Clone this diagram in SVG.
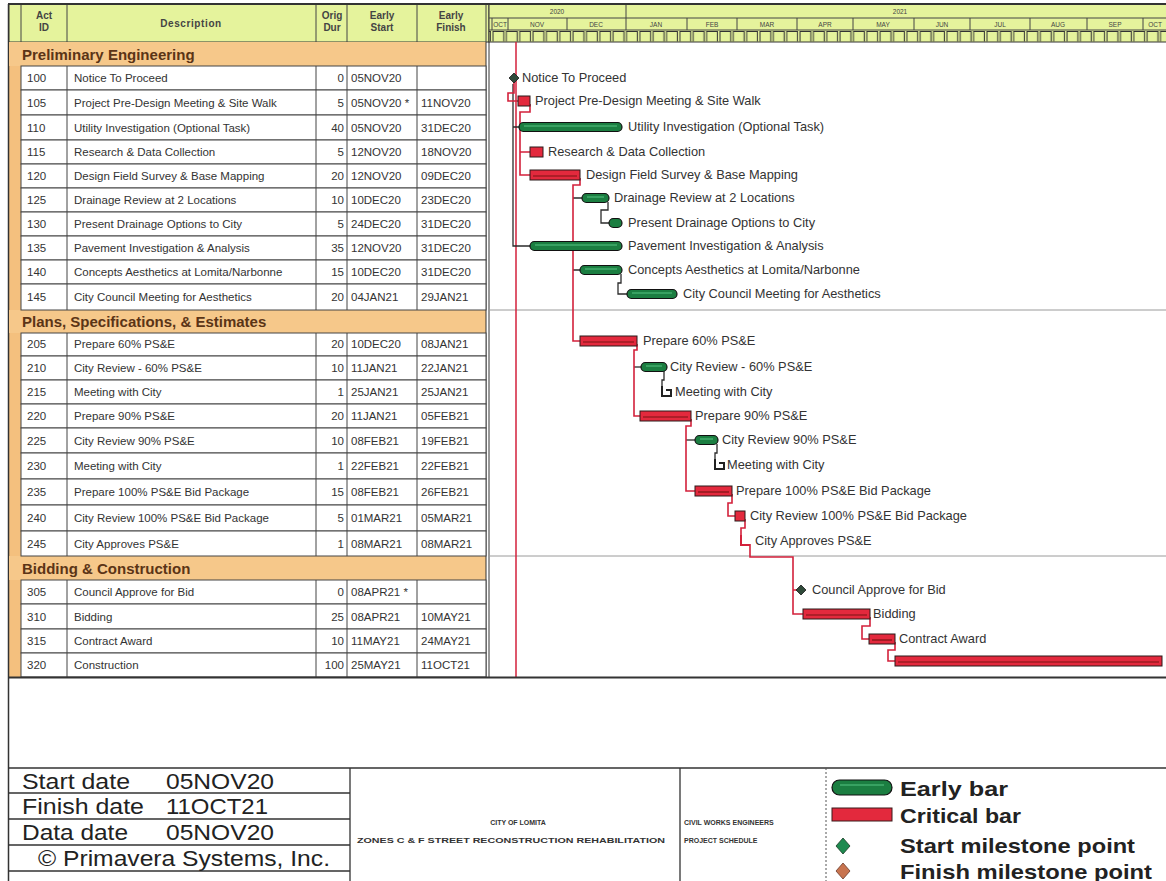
<svg xmlns="http://www.w3.org/2000/svg" width="1166" height="881" viewBox="0 0 1166 881">
<defs>
<pattern id="wk" x="492" y="30" width="13.35" height="12" patternUnits="userSpaceOnUse">
<path d="M1,11.5 V1.5 H11.8 V11.5" fill="none" stroke="#333" stroke-width="1"/>
</pattern>
<style>
.t{font-family:"Liberation Sans",Arial,sans-serif;fill:#333}
.tb{font-size:11.5px}
.hd{font-size:10px;font-weight:bold;fill:#444}
.sec{font-size:15px;font-weight:bold;fill:#5b3416}
.lbl{font-size:12.8px}
.tiny{font-size:6.5px;fill:#444}
.ft{font-size:22px;fill:#222}
.lg{font-size:21px;font-weight:bold;fill:#222}
.sm{font-size:7px;font-weight:bold;fill:#333}
.grid{stroke:#444;stroke-width:1;fill:none}
.cell{fill:#fff;stroke:#444;stroke-width:1}
.secbg{fill:#f6c88a}
.crit{fill:#e3293d;stroke:#2b1b1b;stroke-width:1}
.cin{stroke:#7a1414;stroke-width:1.2}
.early{fill:#1b7e41;stroke:#111;stroke-width:1.2}
.ein{stroke:#56c483;stroke-width:1}
.ms{fill:#2f4a3a;stroke:#1a1a1a;stroke-width:0.8}
.rc{fill:none;stroke:#d3213b;stroke-width:1.6}
.rn{fill:none;stroke:#2b2b2b;stroke-width:1.3}
.brk{fill:none;stroke:#222;stroke-width:2}
.brkc{fill:none;stroke:#d3213b;stroke-width:2}
</style>
</defs>
<rect x="0" y="0" width="1166" height="881" fill="#fff"/>

<!-- left orange strip and frame -->
<rect x="9" y="42" width="12" height="635" fill="#f4c07e"/>
<line x1="8.5" y1="4" x2="8.5" y2="881" stroke="#333" stroke-width="1.5"/>

<!-- column header -->
<g id="col-header">
<rect x="9" y="4" width="480" height="38" fill="#e5f39c" stroke="#333" stroke-width="1"/>
<path class="grid" d="M21,4 V42 M67,4 V42 M316,4 V42 M347,4 V42 M417,4 V42 M486,4 V42"/>
<text class="t hd" x="44" y="19" text-anchor="middle">Act</text>
<text class="t hd" x="44" y="31" text-anchor="middle">ID</text>
<text class="t hd" x="191" y="27" text-anchor="middle" letter-spacing="0.6">Description</text>
<text class="t hd" x="332" y="19" text-anchor="middle">Orig</text>
<text class="t hd" x="332" y="31" text-anchor="middle">Dur</text>
<text class="t hd" x="382" y="19" text-anchor="middle">Early</text>
<text class="t hd" x="382" y="31" text-anchor="middle">Start</text>
<text class="t hd" x="451" y="19" text-anchor="middle">Early</text>
<text class="t hd" x="451" y="31" text-anchor="middle">Finish</text>
</g>

<!-- timeline header -->
<g id="time-header">
<rect x="489" y="4" width="680" height="38" fill="#e5f39c" stroke="#333" stroke-width="1"/>
<path class="grid" d="M489,18 H1166 M489,30 H1166 M626,4 V18"/>
<path class="grid" d="M492,18 V30 M508,18 V30 M567,18 V30 M626,18 V30 M687,18 V30 M737,18 V30 M797,18 V30 M853,18 V30 M914,18 V30 M970,18 V30 M1030,18 V30 M1087,18 V30 M1143,18 V30"/>
<rect x="489" y="30" width="677" height="12" fill="url(#wk)"/>
<text class="t tiny" x="557" y="14" text-anchor="middle">2020</text>
<text class="t tiny" x="900" y="14" text-anchor="middle">2021</text>
<g class="t tiny" text-anchor="middle">
<text x="500" y="27">OCT</text>
<text x="537" y="27">NOV</text>
<text x="596" y="27">DEC</text>
<text x="656" y="27">JAN</text>
<text x="712" y="27">FEB</text>
<text x="767" y="27">MAR</text>
<text x="825" y="27">APR</text>
<text x="883" y="27">MAY</text>
<text x="942" y="27">JUN</text>
<text x="1000" y="27">JUL</text>
<text x="1058" y="27">AUG</text>
<text x="1115" y="27">SEP</text>
<text x="1155" y="27">OCT</text>
</g>
</g>

<!-- section headers -->
<g id="sec-prelim">
<rect class="secbg" x="9" y="42" width="477" height="24"/>
<text class="t sec" x="22" y="60">Preliminary Engineering</text>
</g>
<g id="sec-pse">
<rect class="secbg" x="9" y="310" width="477" height="23"/>
<text class="t sec" x="22" y="327">Plans, Specifications, &amp; Estimates</text>
</g>
<g id="sec-bid">
<rect class="secbg" x="9" y="556" width="477" height="24"/>
<text class="t sec" x="22" y="574">Bidding &amp; Construction</text>
</g>
<path d="M486,42 V677 M489,42 V677" stroke="#333" stroke-width="1"/>
<path d="M489,310 H1166 M489,556 H1166" stroke="#9a9a9a" stroke-width="1"/>

<!-- data date line -->
<line x1="516" y1="42" x2="516" y2="677" stroke="#d3213b" stroke-width="1.5"/>

<!-- connectors -->
<g id="connectors">
<path class="rn" d="M513,84 V246 H530 M513,127 H519"/>
<path class="rn" d="M573,198 H582 M573,270 H580"/>
<path class="rn" d="M608,202 V210 H601 V223 H609"/>
<path class="rn" d="M621,274 V283 H618 V294 H627"/>
<path class="rn" d="M634,367 H641"/>
<path class="rn" d="M664,371 V380 H662 V386"/>
<path class="rn" d="M686,440 H695"/>
<path class="rn" d="M717,444 V453 H715 V459"/>
<path class="rc" d="M514,82 V93 H508 V101 H518"/>
<path class="rc" d="M530,104 V112 H520 V175 H530 M520,152 H530"/>
<path class="rc" d="M580,178 V185 H573 V341 H580"/>
<path class="rc" d="M637,344 V350 H634 V416 H640"/>
<path class="rc" d="M691,419 V426 H686 V491 H695"/>
<path class="rc" d="M732,494 V503 H728 V516 H735"/>
<path class="rc" d="M745,519 V528 H741 V535"/>
<path class="rc" d="M750,544 V557 H793 V614 H803 M793,590 H797"/>
<path class="rc" d="M870,617 V626 H862 V639 H869"/>
<path class="rc" d="M895,642 V650 H888 V661 H895"/>
</g>

<!-- activities -->
<g id="act-100">
<rect class="cell" x="21" y="66" width="465" height="24"/>
<path class="grid" d="M67,66 V90 M316,66 V90 M347,66 V90 M417,66 V90"/>
<g class="t tb"><text x="27" y="82">100</text><text x="74" y="82">Notice To Proceed</text><text x="344" y="82" text-anchor="end">0</text><text x="351" y="82">05NOV20</text></g>
<polygon class="ms" points="514,73 519,78 514,83 509,78"/>
<text class="t lbl" x="522" y="82">Notice To Proceed</text>
</g>
<g id="act-105">
<rect class="cell" x="21" y="90" width="465" height="25"/>
<path class="grid" d="M67,90 V115 M316,90 V115 M347,90 V115 M417,90 V115"/>
<g class="t tb"><text x="27" y="107">105</text><text x="74" y="107">Project Pre-Design Meeting &amp; Site Walk</text><text x="344" y="107" text-anchor="end">5</text><text x="351" y="107">05NOV20 *</text><text x="421" y="107">11NOV20</text></g>
<rect class="crit" x="518" y="96" width="12" height="10"/>
<text class="t lbl" x="535" y="105">Project Pre-Design Meeting &amp; Site Walk</text>
</g>
<g id="act-110">
<rect class="cell" x="21" y="115" width="465" height="25"/>
<path class="grid" d="M67,115 V140 M316,115 V140 M347,115 V140 M417,115 V140"/>
<g class="t tb"><text x="27" y="132">110</text><text x="74" y="132">Utility Investigation (Optional Task)</text><text x="344" y="132" text-anchor="end">40</text><text x="351" y="132">05NOV20</text><text x="421" y="132">31DEC20</text></g>
<rect class="early" x="519" y="122.5" width="103" height="9" rx="4.5"/>
<line class="ein" x1="524" y1="126" x2="617" y2="126"/>
<text class="t lbl" x="628" y="131">Utility Investigation (Optional Task)</text>
</g>
<g id="act-115">
<rect class="cell" x="21" y="140" width="465" height="24"/>
<path class="grid" d="M67,140 V164 M316,140 V164 M347,140 V164 M417,140 V164"/>
<g class="t tb"><text x="27" y="156">115</text><text x="74" y="156">Research &amp; Data Collection</text><text x="344" y="156" text-anchor="end">5</text><text x="351" y="156">12NOV20</text><text x="421" y="156">18NOV20</text></g>
<rect class="crit" x="530" y="147" width="13" height="10"/>
<text class="t lbl" x="548" y="156">Research &amp; Data Collection</text>
</g>
<g id="act-120">
<rect class="cell" x="21" y="164" width="465" height="24"/>
<path class="grid" d="M67,164 V188 M316,164 V188 M347,164 V188 M417,164 V188"/>
<g class="t tb"><text x="27" y="180">120</text><text x="74" y="180">Design Field Survey &amp; Base Mapping</text><text x="344" y="180" text-anchor="end">20</text><text x="351" y="180">12NOV20</text><text x="421" y="180">09DEC20</text></g>
<rect class="crit" x="530" y="170" width="50" height="10"/>
<line class="cin" x1="533" y1="176" x2="577" y2="176"/>
<text class="t lbl" x="586" y="179">Design Field Survey &amp; Base Mapping</text>
</g>
<g id="act-125">
<rect class="cell" x="21" y="188" width="465" height="24"/>
<path class="grid" d="M67,188 V212 M316,188 V212 M347,188 V212 M417,188 V212"/>
<g class="t tb"><text x="27" y="204">125</text><text x="74" y="204">Drainage Review at 2 Locations</text><text x="344" y="204" text-anchor="end">10</text><text x="351" y="204">10DEC20</text><text x="421" y="204">23DEC20</text></g>
<rect class="early" x="582" y="193.5" width="27" height="9" rx="4.5"/>
<line class="ein" x1="587" y1="197" x2="604" y2="197"/>
<text class="t lbl" x="614" y="202">Drainage Review at 2 Locations</text>
</g>
<g id="act-130">
<rect class="cell" x="21" y="212" width="465" height="24"/>
<path class="grid" d="M67,212 V236 M316,212 V236 M347,212 V236 M417,212 V236"/>
<g class="t tb"><text x="27" y="228">130</text><text x="74" y="228">Present Drainage Options to City</text><text x="344" y="228" text-anchor="end">5</text><text x="351" y="228">24DEC20</text><text x="421" y="228">31DEC20</text></g>
<rect class="early" x="609" y="218.5" width="13" height="9" rx="4.5"/>
<text class="t lbl" x="628" y="227">Present Drainage Options to City</text>
</g>
<g id="act-135">
<rect class="cell" x="21" y="236" width="465" height="24"/>
<path class="grid" d="M67,236 V260 M316,236 V260 M347,236 V260 M417,236 V260"/>
<g class="t tb"><text x="27" y="252">135</text><text x="74" y="252">Pavement Investigation &amp; Analysis</text><text x="344" y="252" text-anchor="end">35</text><text x="351" y="252">12NOV20</text><text x="421" y="252">31DEC20</text></g>
<rect class="early" x="530" y="241.5" width="92" height="9" rx="4.5"/>
<line class="ein" x1="535" y1="245" x2="617" y2="245"/>
<text class="t lbl" x="628" y="250">Pavement Investigation &amp; Analysis</text>
</g>
<g id="act-140">
<rect class="cell" x="21" y="260" width="465" height="24"/>
<path class="grid" d="M67,260 V284 M316,260 V284 M347,260 V284 M417,260 V284"/>
<g class="t tb"><text x="27" y="276">140</text><text x="74" y="276">Concepts Aesthetics at Lomita/Narbonne</text><text x="344" y="276" text-anchor="end">15</text><text x="351" y="276">10DEC20</text><text x="421" y="276">31DEC20</text></g>
<rect class="early" x="580" y="265.5" width="42" height="9" rx="4.5"/>
<line class="ein" x1="585" y1="269" x2="617" y2="269"/>
<text class="t lbl" x="628" y="274">Concepts Aesthetics at Lomita/Narbonne</text>
</g>
<g id="act-145">
<rect class="cell" x="21" y="284" width="465" height="26"/>
<path class="grid" d="M67,284 V310 M316,284 V310 M347,284 V310 M417,284 V310"/>
<g class="t tb"><text x="27" y="301">145</text><text x="74" y="301">City Council Meeting for Aesthetics</text><text x="344" y="301" text-anchor="end">20</text><text x="351" y="301">04JAN21</text><text x="421" y="301">29JAN21</text></g>
<rect class="early" x="627" y="289.5" width="50" height="9" rx="4.5"/>
<line class="ein" x1="632" y1="293" x2="672" y2="293"/>
<text class="t lbl" x="683" y="298">City Council Meeting for Aesthetics</text>
</g>

<g id="act-205">
<rect class="cell" x="21" y="333" width="465" height="23"/>
<path class="grid" d="M67,333 V356 M316,333 V356 M347,333 V356 M417,333 V356"/>
<g class="t tb"><text x="27" y="348">205</text><text x="74" y="348">Prepare 60% PS&amp;E</text><text x="344" y="348" text-anchor="end">20</text><text x="351" y="348">10DEC20</text><text x="421" y="348">08JAN21</text></g>
<rect class="crit" x="580" y="336" width="57" height="10"/>
<line class="cin" x1="583" y1="342" x2="634" y2="342"/>
<text class="t lbl" x="643" y="345">Prepare 60% PS&amp;E</text>
</g>
<g id="act-210">
<rect class="cell" x="21" y="356" width="465" height="24"/>
<path class="grid" d="M67,356 V380 M316,356 V380 M347,356 V380 M417,356 V380"/>
<g class="t tb"><text x="27" y="372">210</text><text x="74" y="372">City Review - 60% PS&amp;E</text><text x="344" y="372" text-anchor="end">10</text><text x="351" y="372">11JAN21</text><text x="421" y="372">22JAN21</text></g>
<rect class="early" x="641" y="362.5" width="26" height="9" rx="4.5"/>
<line class="ein" x1="646" y1="366" x2="662" y2="366"/>
<text class="t lbl" x="670" y="371">City Review - 60% PS&amp;E</text>
</g>
<g id="act-215">
<rect class="cell" x="21" y="380" width="465" height="24"/>
<path class="grid" d="M67,380 V404 M316,380 V404 M347,380 V404 M417,380 V404"/>
<g class="t tb"><text x="27" y="396">215</text><text x="74" y="396">Meeting with City</text><text x="344" y="396" text-anchor="end">1</text><text x="351" y="396">25JAN21</text><text x="421" y="396">25JAN21</text></g>
<path class="brk" d="M662,386 V396 H671 V390 H666"/>
<text class="t lbl" x="675" y="396">Meeting with City</text>
</g>
<g id="act-220">
<rect class="cell" x="21" y="404" width="465" height="24"/>
<path class="grid" d="M67,404 V428 M316,404 V428 M347,404 V428 M417,404 V428"/>
<g class="t tb"><text x="27" y="420">220</text><text x="74" y="420">Prepare 90% PS&amp;E</text><text x="344" y="420" text-anchor="end">20</text><text x="351" y="420">11JAN21</text><text x="421" y="420">05FEB21</text></g>
<rect class="crit" x="640" y="411" width="51" height="10"/>
<line class="cin" x1="643" y1="417" x2="688" y2="417"/>
<text class="t lbl" x="695" y="420">Prepare 90% PS&amp;E</text>
</g>
<g id="act-225">
<rect class="cell" x="21" y="428" width="465" height="25"/>
<path class="grid" d="M67,428 V453 M316,428 V453 M347,428 V453 M417,428 V453"/>
<g class="t tb"><text x="27" y="445">225</text><text x="74" y="445">City Review 90% PS&amp;E</text><text x="344" y="445" text-anchor="end">10</text><text x="351" y="445">08FEB21</text><text x="421" y="445">19FEB21</text></g>
<rect class="early" x="695" y="435.5" width="23" height="9" rx="4.5"/>
<line class="ein" x1="700" y1="439" x2="713" y2="439"/>
<text class="t lbl" x="722" y="444">City Review 90% PS&amp;E</text>
</g>
<g id="act-230">
<rect class="cell" x="21" y="453" width="465" height="26"/>
<path class="grid" d="M67,453 V479 M316,453 V479 M347,453 V479 M417,453 V479"/>
<g class="t tb"><text x="27" y="470">230</text><text x="74" y="470">Meeting with City</text><text x="344" y="470" text-anchor="end">1</text><text x="351" y="470">22FEB21</text><text x="421" y="470">22FEB21</text></g>
<path class="brk" d="M715,459 V469 H724 V463 H719"/>
<text class="t lbl" x="727" y="469">Meeting with City</text>
</g>
<g id="act-235">
<rect class="cell" x="21" y="479" width="465" height="26"/>
<path class="grid" d="M67,479 V505 M316,479 V505 M347,479 V505 M417,479 V505"/>
<g class="t tb"><text x="27" y="496">235</text><text x="74" y="496">Prepare 100% PS&amp;E Bid Package</text><text x="344" y="496" text-anchor="end">15</text><text x="351" y="496">08FEB21</text><text x="421" y="496">26FEB21</text></g>
<rect class="crit" x="695" y="486" width="37" height="10"/>
<line class="cin" x1="698" y1="492" x2="729" y2="492"/>
<text class="t lbl" x="736" y="495">Prepare 100% PS&amp;E Bid Package</text>
</g>
<g id="act-240">
<rect class="cell" x="21" y="505" width="465" height="26"/>
<path class="grid" d="M67,505 V531 M316,505 V531 M347,505 V531 M417,505 V531"/>
<g class="t tb"><text x="27" y="522">240</text><text x="74" y="522">City Review 100% PS&amp;E Bid Package</text><text x="344" y="522" text-anchor="end">5</text><text x="351" y="522">01MAR21</text><text x="421" y="522">05MAR21</text></g>
<rect class="crit" x="735" y="511" width="10" height="10"/>
<text class="t lbl" x="750" y="520">City Review 100% PS&amp;E Bid Package</text>
</g>
<g id="act-245">
<rect class="cell" x="21" y="531" width="465" height="25"/>
<path class="grid" d="M67,531 V556 M316,531 V556 M347,531 V556 M417,531 V556"/>
<g class="t tb"><text x="27" y="548">245</text><text x="74" y="548">City Approves PS&amp;E</text><text x="344" y="548" text-anchor="end">1</text><text x="351" y="548">08MAR21</text><text x="421" y="548">08MAR21</text></g>
<path class="brkc" d="M741,535 V545 H750"/>
<text class="t lbl" x="755" y="545">City Approves PS&amp;E</text>
</g>

<g id="act-305">
<rect class="cell" x="21" y="580" width="465" height="24"/>
<path class="grid" d="M67,580 V604 M316,580 V604 M347,580 V604 M417,580 V604"/>
<g class="t tb"><text x="27" y="596">305</text><text x="74" y="596">Council Approve for Bid</text><text x="344" y="596" text-anchor="end">0</text><text x="351" y="596">08APR21 *</text></g>
<polygon class="ms" points="801,585 806,590 801,595 796,590"/>
<text class="t lbl" x="812" y="594">Council Approve for Bid</text>
</g>
<g id="act-310">
<rect class="cell" x="21" y="604" width="465" height="25"/>
<path class="grid" d="M67,604 V629 M316,604 V629 M347,604 V629 M417,604 V629"/>
<g class="t tb"><text x="27" y="621">310</text><text x="74" y="621">Bidding</text><text x="344" y="621" text-anchor="end">25</text><text x="351" y="621">08APR21</text><text x="421" y="621">10MAY21</text></g>
<rect class="crit" x="803" y="609" width="67" height="10"/>
<line class="cin" x1="806" y1="615" x2="867" y2="615"/>
<text class="t lbl" x="873" y="618">Bidding</text>
</g>
<g id="act-315">
<rect class="cell" x="21" y="629" width="465" height="24"/>
<path class="grid" d="M67,629 V653 M316,629 V653 M347,629 V653 M417,629 V653"/>
<g class="t tb"><text x="27" y="645">315</text><text x="74" y="645">Contract Award</text><text x="344" y="645" text-anchor="end">10</text><text x="351" y="645">11MAY21</text><text x="421" y="645">24MAY21</text></g>
<rect class="crit" x="869" y="634" width="26" height="10"/>
<line class="cin" x1="872" y1="640" x2="892" y2="640"/>
<text class="t lbl" x="899" y="643">Contract Award</text>
</g>
<g id="act-320">
<rect class="cell" x="21" y="653" width="465" height="24"/>
<path class="grid" d="M67,653 V677 M316,653 V677 M347,653 V677 M417,653 V677"/>
<g class="t tb"><text x="27" y="669">320</text><text x="74" y="669">Construction</text><text x="344" y="669" text-anchor="end">100</text><text x="351" y="669">25MAY21</text><text x="421" y="669">11OCT21</text></g>
<rect class="crit" x="895" y="656" width="267" height="10"/>
<line class="cin" x1="898" y1="662" x2="1159" y2="662"/>
</g>

<!-- frame lines -->
<line x1="8" y1="4" x2="1166" y2="4" stroke="#333" stroke-width="2"/>
<line x1="8" y1="677.5" x2="1166" y2="677.5" stroke="#333" stroke-width="2"/>

<!-- footer -->
<g id="footer-dates">
<path d="M8,768 H1166 M8,793 H350 M8,819 H350 M8,845 H350 M8,871 H350 M350,768 V881 M680,768 V881" stroke="#333" stroke-width="1.3" fill="none"/>
<text class="t ft" x="22" y="789" textLength="108" lengthAdjust="spacingAndGlyphs">Start date</text>
<text class="t ft" x="166" y="789" textLength="108" lengthAdjust="spacingAndGlyphs">05NOV20</text>
<text class="t ft" x="22" y="814" textLength="122" lengthAdjust="spacingAndGlyphs">Finish date</text>
<text class="t ft" x="166" y="814" textLength="102" lengthAdjust="spacingAndGlyphs">11OCT21</text>
<text class="t ft" x="22" y="840" textLength="106" lengthAdjust="spacingAndGlyphs">Data date</text>
<text class="t ft" x="166" y="840" textLength="108" lengthAdjust="spacingAndGlyphs">05NOV20</text>
<text class="t ft" x="38" y="866" textLength="292" lengthAdjust="spacingAndGlyphs">© Primavera Systems, Inc.</text>
</g>
<g id="footer-title">
<text class="t sm" x="518" y="825" text-anchor="middle">CITY OF LOMITA</text>
<text class="t sm" x="357" y="843" textLength="308" lengthAdjust="spacingAndGlyphs">ZONES C &amp; F STREET RECONSTRUCTION REHABILITATION</text>
<text class="t sm" x="684" y="825">CIVIL WORKS ENGINEERS</text>
<text class="t sm" x="684" y="843">PROJECT SCHEDULE</text>
</g>
<g id="legend">
<line x1="826" y1="768" x2="826" y2="881" stroke="#555" stroke-width="1" stroke-dasharray="2,2"/>
<rect class="early" x="832" y="780" width="60" height="15" rx="7.5"/>
<line class="ein" x1="840" y1="785" x2="884" y2="785"/>
<text class="t lg" x="900" y="796" textLength="108" lengthAdjust="spacingAndGlyphs">Early bar</text>
<rect x="832" y="808" width="60" height="13" fill="#e3293d" stroke="#3a1a1a" stroke-width="1"/>
<text class="t lg" x="900" y="823" textLength="121" lengthAdjust="spacingAndGlyphs">Critical bar</text>
<polygon points="843,838 850,846 843,854 836,846" fill="#1e8a50" stroke="#1a3a24" stroke-width="0.8"/>
<text class="t lg" x="900" y="853" textLength="235" lengthAdjust="spacingAndGlyphs">Start milestone point</text>
<polygon points="843,863 850,871 843,879 836,871" fill="#c8744f" stroke="#6a3a2a" stroke-width="0.8"/>
<text class="t lg" x="900" y="879" textLength="252" lengthAdjust="spacingAndGlyphs">Finish milestone point</text>
</g>
</svg>
